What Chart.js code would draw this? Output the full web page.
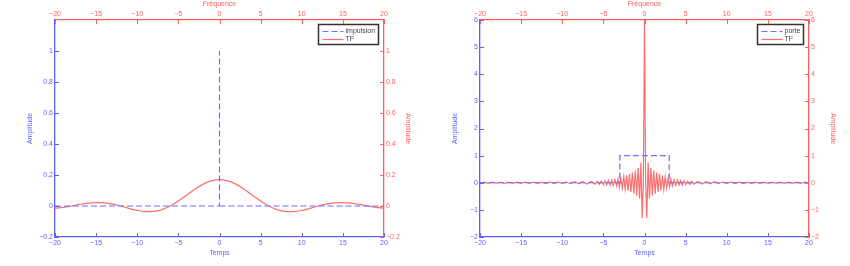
<!DOCTYPE html>
<html>
<head>
<meta charset="utf-8">
<script src="https://cdn.jsdelivr.net/npm/chart.js@4"></script>
<style>
  body { margin: 0; background: #fff; }
  .row { display: flex; width: 850px; height: 266px; }
  canvas { display: block; }
</style>
</head>
<body>
<div class="row">
  <canvas id="c1" width="425" height="266"></canvas>
  <canvas id="c2" width="425" height="266"></canvas>
</div>
<script>
// axis ticks
var timeTicks = [-20, -15, -10, -5, 0, 5, 10, 15, 20];
var ampTicksLeft = [-0.2, 0, 0.2, 0.4, 0.6, 0.8, 1];
var ampTicksRight = [-2, -1, 0, 1, 2, 3, 4, 5, 6];

// left plot: impulsion + its TF
var impulsionT = [-20, 0, 0, null, 0, 20];
var impulsionY = [0, 0, 1, null, 0, 0];
var tfImpF = [-20, -19, -18, -17, -16, -15, -14, -13, -12, -11, -10, -9, -8, -7, -6, -5, -4, -3, -2, -1,
              0, 1, 2, 3, 4, 5, 6, 7, 8, 9, 10, 11, 12, 13, 14, 15, 16, 17, 18, 19, 20];
var tfImpY = [-0.014, -0.009, 0, 0.010, 0.018, 0.022, 0.020, 0.012, 0, -0.015, -0.028, -0.036, -0.035, -0.023, 0, 0.032, 0.070, 0.108, 0.141, 0.162,
              0.170, 0.162, 0.141, 0.108, 0.070, 0.032, 0, -0.023, -0.035, -0.036, -0.028, -0.015, 0, 0.012, 0.020, 0.022, 0.018, 0.010, 0, -0.009, -0.014];

// right plot: porte + its TF
var porteT = [-20, -3, -3, 3, 3, 20];
var porteY = [0, 0, 1, 1, 0, 0];
var tfPorteF = [-20, -19.5, -19, -18.5, -18, -17.5, -17, -16.5, -16, -15.5, -15, -14.5, -14, -13.5, -13, -12.5, -12, -11.5, -11, -10.5,
                -10, -9.5, -9, -8.5, -8, -7.5, -7, -6.5, -6, -5.75, -5.5, -5.25, -5, -4.8, -4.6, -4.4, -4.2, -4, -3.8, -3.6,
                -3.4, -3.22, -3.05, -2.88, -2.7, -2.52, -2.35, -2.18, -2, -1.83, -1.65, -1.48, -1.3, -1.12, -0.95, -0.78, -0.6, -0.44, -0.28, -0.14,
                0,
                0.14, 0.28, 0.44, 0.6, 0.78, 0.95, 1.12, 1.3, 1.48, 1.65, 1.83, 2, 2.18, 2.35, 2.52, 2.7, 2.88, 3.05, 3.22, 3.4,
                3.6, 3.8, 4, 4.2, 4.4, 4.6, 4.8, 5, 5.25, 5.5, 5.75, 6, 6.5, 7, 7.5, 8, 8.5, 9, 9.5, 10,
                10.5, 11, 11.5, 12, 12.5, 13, 13.5, 14, 14.5, 15, 15.5, 16, 16.5, 17, 17.5, 18, 18.5, 19, 19.5, 20];
var tfPorteY = [-0.02, 0.02, -0.02, 0.02, -0.02, 0.02, -0.02, 0.02, -0.02, 0.02, -0.02, 0.02, -0.025, 0.025, -0.025, 0.025, -0.03, 0.03, -0.03, 0.03,
                -0.035, 0.035, -0.035, 0.04, -0.04, 0.04, -0.045, 0.045, -0.05, 0.05, -0.06, 0.06, -0.07, 0.08, -0.08, 0.09, -0.09, 0.1, -0.1, 0.11,
                -0.12, 0.14, -0.16, 0.18, -0.2, 0.22, -0.24, 0.27, -0.29, 0.32, -0.34, 0.38, -0.4, 0.45, -0.48, 0.55, -0.58, 0.75, -1.3, 0,
                6,
                0, -1.3, 0.75, -0.58, 0.55, -0.48, 0.45, -0.4, 0.38, -0.34, 0.32, -0.29, 0.27, -0.24, 0.22, -0.2, 0.18, -0.16, 0.14, -0.12,
                0.11, -0.1, 0.1, -0.09, 0.09, -0.08, 0.08, -0.07, 0.06, -0.06, 0.05, -0.05, 0.045, -0.045, 0.04, -0.04, 0.04, -0.035, 0.035, -0.035,
                0.03, -0.03, 0.03, -0.03, 0.025, -0.025, 0.025, -0.025, 0.02, -0.02, 0.02, -0.02, 0.02, -0.02, 0.02, -0.02, 0.02, -0.02, 0.02, -0.02];

var BLUE = 'rgb(95,95,255)';
var RED = 'rgb(255,95,95)';
var LINE_RED = 'rgb(255,110,110)';
var LINE_BLUE = 'rgb(110,110,255)';
var FONT = { family: '"Liberation Sans", Arial, sans-serif', size: 7 };

function pts(xs, ys) {
  return xs.map(function (x, i) {
    return x === null ? { x: 0, y: null } : { x: x, y: ys[i] };
  });
}

function fmt(v) {
  var s = String(Math.round(v * 10) / 10);
  return s.replace('-', '\u2212');
}

// inward tick marks, matlab style
var inwardTicks = {
  id: 'inwardTicks',
  afterDraw: function (chart) {
    var ctx = chart.ctx, a = chart.chartArea;
    ctx.save();
    ctx.lineWidth = 1;
    Object.values(chart.scales).forEach(function (s) {
      ctx.strokeStyle = s.options.border.color;
      s.ticks.forEach(function (t) {
        var p = Math.round(s.getPixelForValue(t.value)) + 0.5;
        ctx.beginPath();
        if (s.axis === 'x') {
          var y0 = s.position === 'top' ? a.top : a.bottom;
          ctx.moveTo(p, y0);
          ctx.lineTo(p, y0 + (s.position === 'top' ? 4 : -4));
        } else {
          var x0 = s.position === 'left' ? a.left : a.right;
          ctx.moveTo(x0, p);
          ctx.lineTo(x0 + (s.position === 'left' ? 4 : -4), p);
        }
        ctx.stroke();
      });
    });
    ctx.restore();
  }
};

var boxLegend = {
  id: 'boxLegend',
  afterDatasetsDraw: function (chart) {
    var ctx = chart.ctx, a = chart.chartArea;
    var ds = chart.data.datasets;
    ctx.save();
    ctx.font = '7px "Liberation Sans", Arial, sans-serif';
    var tw = Math.max.apply(null, ds.map(function (d) { return ctx.measureText(d.label).width; }));
    var w = Math.round(27 + tw + 3), h = 20;
    var x = Math.round(a.right - 6 - w) + 0.5, y = Math.round(a.top + 4) + 0.5;
    ctx.fillStyle = '#fff';
    ctx.fillRect(x, y, w, h);
    ctx.strokeStyle = '#333';
    ctx.lineWidth = 1.5;
    ctx.strokeRect(x, y, w, h);
    ds.forEach(function (d, i) {
      var ly = Math.round(y + 6 + i * 8.5) + 0.5;
      ctx.strokeStyle = d.borderColor;
      ctx.lineWidth = 1.2;
      ctx.setLineDash(d.borderDash || []);
      ctx.beginPath();
      ctx.moveTo(x + 4, ly);
      ctx.lineTo(x + 25, ly);
      ctx.stroke();
      ctx.setLineDash([]);
      ctx.fillStyle = '#444';
      ctx.textBaseline = 'middle';
      ctx.fillText(d.label, x + 27, ly);
    });
    ctx.restore();
  }
};

function axis(pos, color, min, max, tickList, size, title, titlePad) {
  return {
    type: 'linear',
    position: pos,
    min: min,
    max: max,
    grid: { display: false, drawTicks: false },
    border: { display: true, color: color, width: 1.3 },
    ticks: {
      color: color, font: FONT, padding: 2, maxRotation: 0, autoSkip: false,
      callback: function (v) { return fmt(v); }
    },
    afterBuildTicks: function (s) {
      s.ticks = tickList.map(function (v) { return { value: v }; });
    },
    afterFit: function (s) {
      if (pos === 'left' || pos === 'right') s.width = size; else s.height = size;
    },
    title: { display: true, text: title, color: color, font: FONT, padding: titlePad }
  };
}

function makeChart(id, sig, sigLabel, tf, yMin, yMax, yTicks, smooth) {
  return new Chart(id, {
    type: 'scatter',
    data: {
      datasets: [{
        label: sigLabel,
        data: sig,
        showLine: true,
        borderColor: LINE_BLUE,
        borderWidth: 1.2,
        borderDash: [6, 3],
        pointRadius: 0,
        spanGaps: false,
        xAxisID: 'x',
        yAxisID: 'y'
      }, {
        label: 'TF',
        data: tf,
        showLine: true,
        borderColor: LINE_RED,
        borderWidth: 1.2,
        pointRadius: 0,
        tension: smooth ? 0.4 : 0,
        xAxisID: 'x2',
        yAxisID: 'y2'
      }]
    },
    options: {
      responsive: false,
      animation: false,
      layout: { padding: 0 },
      plugins: { legend: { display: false }, tooltip: { enabled: false } },
      scales: {
        x: axis('bottom', BLUE, -20, 20, timeTicks, 29, 'Temps', { bottom: 9, top: 0 }),
        x2: axis('top', RED, -20, 20, timeTicks, 20, 'Fr\u00e9quence', { top: 0, bottom: 0 }),
        y: axis('left', BLUE, yMin, yMax, yTicks, 55, 'Amplitude', { top: 26, bottom: 0 }),
        y2: axis('right', RED, yMin, yMax, yTicks, 41, 'Amplitude', { top: 13, bottom: 0 })
      }
    },
    plugins: [inwardTicks, boxLegend]
  });
}

makeChart('c1', pts(impulsionT, impulsionY), 'impulsion', pts(tfImpF, tfImpY), -0.2, 1.2, ampTicksLeft, true);
makeChart('c2', pts(porteT, porteY), 'porte', pts(tfPorteF, tfPorteY), -2, 6, ampTicksRight, false);
</script>
</body>
</html>
